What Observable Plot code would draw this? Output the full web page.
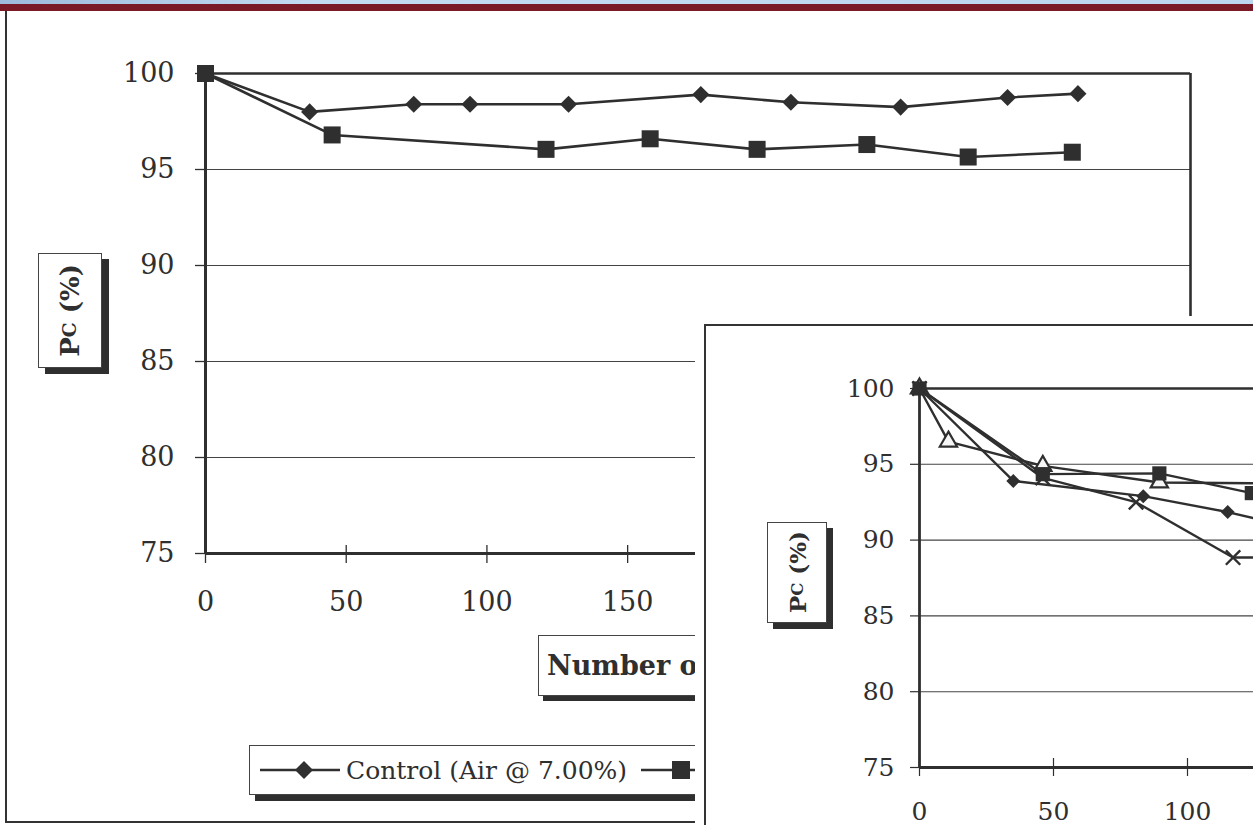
<!DOCTYPE html>
<html>
<head>
<meta charset="utf-8">
<script src="https://cdn.jsdelivr.net/npm/d3@7"></script>
<script src="https://cdn.jsdelivr.net/npm/@observablehq/plot@0.6"></script>
<style>
  html, body { margin: 0; padding: 0; width: 1253px; height: 825px; overflow: hidden; background: #fff; }
  body { position: relative; font-family: "DejaVu Serif", serif; color: #2f2f2f; }
  .abs { position: absolute; }
  #strip { left: 0; top: 0; width: 1253px; height: 4px; background: linear-gradient(90deg, #9dbbdc, #c3dbf1 25%, #bcd6ef 100%); z-index: 20; }
  #bar { left: 0; top: 4px; width: 1253px; height: 7px; background: #7a1a27; z-index: 20; }
  #frame { left: 5px; top: 11px; width: 1400px; height: 810px; border-left: 2px solid #333; border-bottom: 2px solid #333; z-index: 1; }
  #main { left: 0; top: 0; width: 1253px; height: 825px; z-index: 2; }
  #main svg, #inset svg { max-width: none !important; display: block; }
  .box { position: absolute; background: #fff; border: 1px solid #444; box-sizing: border-box; z-index: 3; }
  .ylab { display: flex; align-items: center; justify-content: center; }
  .ylab span { writing-mode: vertical-rl; transform: rotate(180deg); font-weight: bold; white-space: nowrap; }
  .ylab sub { font-size: 0.72em; vertical-align: 0.05em; }
  #ylab1 { left: 38px; top: 253px; width: 64px; height: 115px; box-shadow: 7px 6px 0 #2f2f2f; font-size: 26px; }
  #xlab { left: 538px; top: 635px; width: 420px; height: 61px; box-shadow: 5px 5px 0 #2f2f2f; font-size: 27px; font-weight: bold; display: flex; align-items: center; padding-left: 8px; }
  #legend { left: 249px; top: 745px; width: 800px; height: 50px; box-shadow: 6px 6px 0 #2f2f2f; font-size: 25px; display: flex; align-items: center; }
  #legend svg { display: block; }
  #insetbg { left: 695px; top: 316px; width: 700px; height: 560px; background: #fff; z-index: 5; }
  #insetframe { left: 704px; top: 324px; width: 700px; height: 560px; border-left: 2px solid #333; border-top: 2px solid #333; z-index: 6; }
  #inset { left: 695px; top: 316px; width: 1200px; height: 520px; z-index: 7; }
  #ylab2 { left: 767px; top: 522px; width: 60px; height: 101px; box-shadow: 6px 6px 0 #2f2f2f; font-size: 23px; z-index: 8; }
</style>
</head>
<body>
<div class="abs" id="strip"></div>
<div class="abs" id="bar"></div>
<div class="abs" id="frame"></div>
<div class="abs" id="main"></div>
<div class="box ylab" id="ylab1"><span>P<sub>C</sub> (%)</span></div>
<div class="box" id="xlab">Number of Cycles</div>
<div class="box" id="legend">
  <svg width="84" height="24" viewBox="0 0 84 24" style="margin-left:10px">
    <line x1="0" y1="12" x2="80" y2="12" stroke="#2f2f2f" stroke-width="2.6"/>
    <path d="M44,3 L53,12 L44,21 L35,12 Z" fill="#2f2f2f"/>
  </svg>
  <span style="margin-left:2px">Control (Air @ 7.00%)</span>
  <svg width="80" height="24" viewBox="0 0 80 24" style="margin-left:14px">
    <line x1="0" y1="12" x2="80" y2="12" stroke="#2f2f2f" stroke-width="2.6"/>
    <rect x="31" y="3" width="18" height="18" fill="#2f2f2f"/>
  </svg>
</div>
<div class="abs" id="insetbg"></div>
<div class="abs" id="insetframe"></div>
<div class="abs" id="inset"></div>
<div class="box ylab" id="ylab2"><span>P<sub>C</sub> (%)</span></div>

<script>
// Axis ticks (the main panel's right half sits under the inset,
// and the inset runs past the right edge of the page)
const mainXTicks = [0, 50, 100, 150];
const insetXTicks = [0, 50, 100];
const yTicks = [75, 80, 85, 90, 95, 100];
const yGrid = [80, 85, 90, 95];

// Main panel: control mix (diamonds) and second mix (squares)
const controlCycles = [0, 37, 74, 94, 129, 176, 208, 247, 285, 310];
const controlPc     = [100, 98.0, 98.4, 98.4, 98.4, 98.9, 98.5, 98.25, 98.75, 98.95];
const mixBCycles    = [0, 45, 121, 158, 196, 235, 271, 308];
const mixBPc        = [100, 96.8, 96.05, 96.6, 96.05, 96.3, 95.65, 95.9];

// Inset panel: four series
const insetDiamondCycles  = [0, 35, 83.5, 115, 150];
const insetDiamondPc      = [100, 93.9, 92.9, 91.85, 90.4];
const insetSquareCycles   = [0, 46, 89.5, 124, 160];
const insetSquarePc       = [100, 94.35, 94.4, 93.1, 92.8];
const insetTriangleCycles = [0, 10.8, 46, 89.5, 160];
const insetTrianglePc     = [100, 96.5, 94.9, 93.8, 93.7];
const insetCrossCycles    = [0, 46, 80.8, 117, 160];
const insetCrossPc        = [100, 94.1, 92.5, 88.85, 88.85];

const ink = "#2f2f2f";
const zip = (xs, ys) => xs.map((x, i) => ({x, y: ys[i]}));

const control = zip(controlCycles, controlPc);
const mixB = zip(mixBCycles, mixBPc);
const iDia = zip(insetDiamondCycles, insetDiamondPc);
const iSq = zip(insetSquareCycles, insetSquarePc);
const iTri = zip(insetTriangleCycles, insetTrianglePc);
const iX = zip(insetCrossCycles, insetCrossPc);

// Main chart
const main = Plot.plot({
  width: 1253, height: 825,
  marginLeft: 205, marginRight: 63, marginTop: 73, marginBottom: 272,
  style: {background: "transparent", fontFamily: "DejaVu Serif, serif", color: ink, overflow: "visible", maxWidth: "none"},
  x: {domain: [0, 350]},
  y: {domain: [75, 100]},
  marks: [
    Plot.ruleY(yGrid, {stroke: "#444", strokeWidth: 1.2}),
    Plot.ruleY([100], {stroke: ink, strokeWidth: 2.6}),
    Plot.ruleX([350], {stroke: ink, strokeWidth: 2.6}),
    Plot.ruleY([75], {stroke: ink, strokeWidth: 3}),
    Plot.ruleX([0], {stroke: ink, strokeWidth: 3}),
    Plot.axisY({ticks: yTicks, tickSize: 10, tickPadding: 21, label: null, fontSize: 27, stroke: ink, strokeWidth: 1.3, tickFormat: d => String(d)}),
    Plot.axisX({ticks: mainXTicks, tickSize: 18, dy: -8, tickPadding: 28, label: null, fontSize: 27, stroke: ink, strokeWidth: 1.3, tickFormat: d => String(d)}),
    Plot.line(control, {x: "x", y: "y", stroke: ink, strokeWidth: 2.6}),
    Plot.line(mixB, {x: "x", y: "y", stroke: ink, strokeWidth: 2.6}),
    Plot.dot(control, {x: "x", y: "y", symbol: "diamond2", r: 7.7, fill: ink, stroke: "none"}),
    Plot.dot(mixB, {x: "x", y: "y", symbol: "square", r: 9.6, fill: ink, stroke: "none"})
  ]
});
document.getElementById("main").append(main);

// Inset chart
const inset = Plot.plot({
  width: 1200, height: 520,
  marginLeft: 224, marginRight: 38, marginTop: 72, marginBottom: 69,
  style: {background: "transparent", fontFamily: "DejaVu Serif, serif", color: ink, overflow: "visible", maxWidth: "none"},
  x: {domain: [0, 350]},
  y: {domain: [75, 100]},
  marks: [
    Plot.ruleY(yGrid, {stroke: "#444", strokeWidth: 1.1}),
    Plot.ruleY([100], {stroke: ink, strokeWidth: 2.4}),
    Plot.ruleY([75], {stroke: ink, strokeWidth: 2.8}),
    Plot.ruleX([0], {stroke: ink, strokeWidth: 2.8}),
    Plot.axisY({ticks: yTicks, tickSize: 9, tickPadding: 16, label: null, fontSize: 25, stroke: ink, strokeWidth: 1.2, tickFormat: d => String(d)}),
    Plot.axisX({ticks: insetXTicks, tickSize: 18, dy: -9, tickPadding: 26, label: null, fontSize: 25, stroke: ink, strokeWidth: 1.2, tickFormat: d => String(d)}),
    Plot.line(iTri, {x: "x", y: "y", stroke: ink, strokeWidth: 2.4}),
    Plot.line(iSq, {x: "x", y: "y", stroke: ink, strokeWidth: 2.4}),
    Plot.line(iDia, {x: "x", y: "y", stroke: ink, strokeWidth: 2.4}),
    Plot.line(iX, {x: "x", y: "y", stroke: ink, strokeWidth: 2.4}),
    Plot.dot(iTri, {x: "x", y: "y", symbol: "triangle", r: 6.4, fill: "#f6f6f6", stroke: ink, strokeWidth: 2.2}),
    Plot.dot(iDia, {x: "x", y: "y", symbol: "diamond2", r: 6.3, fill: ink, stroke: "none"}),
    Plot.dot(iX, {x: "x", y: "y", symbol: "times", r: 6.6, fill: "none", stroke: ink, strokeWidth: 2.4}),
    Plot.dot(iSq, {x: "x", y: "y", symbol: "square", r: 8, fill: ink, stroke: "none"})
  ]
});
document.getElementById("inset").append(inset);
</script>
</body>
</html>
